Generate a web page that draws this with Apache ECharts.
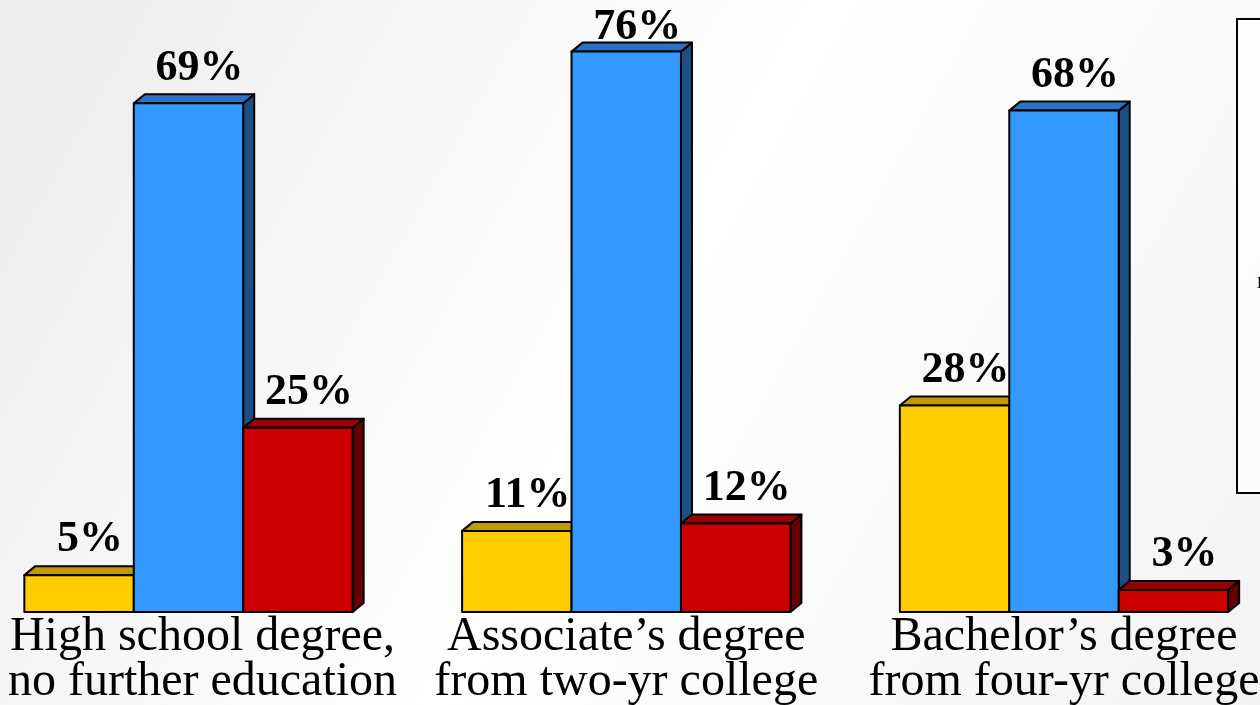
<!DOCTYPE html>
<html>
<head>
<meta charset="utf-8">
<script src="https://cdn.jsdelivr.net/npm/echarts@6/dist/echarts.min.js"></script>
<style>
html,body{margin:0;padding:0;}
#chart{width:1260px;height:705px;}
</style>
</head>
<body>
<div id="chart"></div>
<script>
const categories = ['High school degree,\nno further education', 'Associate’s degree\nfrom two-yr college', 'Bachelor’s degree\nfrom four-yr college'];
const seriesNames = ['Over-\neducated\nfor job', 'Education\nmatches\njob', 'Under-\neducated\nfor job'];
const overValues = [5, 11, 28];
const matchedValues = [69, 76, 68];
const underValues = [25, 12, 3];

const faceColors = [
  { front: '#FFCC00', top: '#C09A00', side: '#8A6E00' },
  { front: '#3399FF', top: '#2A72C4', side: '#1F4E85' },
  { front: '#CC0000', top: '#990000', side: '#660000' }
];
const DX = 11, DY = 9;

function makeRender(slot) {
  return function (params, api) {
    const idx = api.value(0);
    const val = api.value(1);
    const base = api.coord([idx, 0]);
    const top = api.coord([idx, val]);
    const band = api.size([1, 0])[0];
    const w = band * 0.25;
    const left = base[0] - w * 1.5 + slot * w;
    const right = left + w;
    const ty = top[1];
    const by = base[1];
    const c = faceColors[slot];
    const stroke = { stroke: '#000', lineWidth: 2, lineJoin: 'round' };
    const labelY = Math.max(ty - 13, 50);
    return {
      type: 'group',
      children: [
        { type: 'polygon', shape: { points: [[right, by], [right, ty], [right + DX, ty - DY], [right + DX, by - DY]] },
          style: Object.assign({ fill: c.side }, stroke) },
        { type: 'polygon', shape: { points: [[left, ty], [left + DX, ty - DY], [right + DX, ty - DY], [right, ty]] },
          style: Object.assign({ fill: c.top }, stroke) },
        { type: 'rect', shape: { x: left, y: ty, width: w, height: by - ty },
          style: Object.assign({ fill: c.front }, stroke) },
        { type: 'text', style: { text: val + '%', x: (left + right) / 2 + 11, y: labelY,
          align: 'center', verticalAlign: 'bottom', fill: '#000',
          fontFamily: '"Liberation Serif", "Times New Roman", serif', fontWeight: 'bold', fontSize: 44 } }
      ]
    };
  };
}

const allValues = [overValues, matchedValues, underValues];
const series = allValues.map(function (vals, s) {
  return {
    type: 'custom',
    name: seriesNames[s],
    renderItem: makeRender(s),
    itemStyle: { color: faceColors[s].front },
    encode: { x: 0, y: 1 },
    data: vals.map(function (v, i) { return [i, v]; }),
    z: 2 + s
  };
});

const chart = echarts.init(document.getElementById('chart'));
const catFont = { fontFamily: '"Liberation Serif", "Times New Roman", serif', fontSize: 48, lineHeight: 45, color: '#000' };
chart.setOption({
  backgroundColor: new echarts.graphic.LinearGradient(0, 0, 1, 1, [
    { offset: 0, color: '#ECECEC' },
    { offset: 0.5, color: '#FFFFFF' },
    { offset: 1, color: '#F3F3F3' }
  ]),
  animation: false,
  grid: { left: 188.5, right: 196, top: 0, bottom: 93, containLabel: false, outerBoundsMode: 'none' },
  xAxis: {
    type: 'category',
    boundaryGap: false,
    data: categories,
    axisLine: { show: false },
    axisTick: { show: false },
    axisLabel: {
      margin: 3,
      interval: 0,
      formatter: function (value, index) {
        const tag = index === 0 ? 'first' : 'other';
        return value.split('\n').map(function (l) { return '{' + tag + '|' + l + '}'; }).join('\n');
      },
      rich: {
        first: Object.assign({ padding: [0, 0, 0, 28] }, catFont),
        other: Object.assign({}, catFont)
      }
    }
  },
  yAxis: { type: 'value', min: 0, max: 83, show: false, splitLine: { show: false } },
  legend: {
    orient: 'vertical',
    left: 1252,
    top: 205,
    align: 'right',
    itemGap: 18,
    itemWidth: 14,
    itemHeight: 14,
    data: seriesNames,
    textStyle: { fontFamily: '"Liberation Serif", serif', fontSize: 16, lineHeight: 16, color: '#000' }
  },
  graphic: [
    { type: 'rect', left: 1236, top: 18, z: -1, shape: { width: 60, height: 474 },
      style: { fill: 'rgba(255,255,255,0.7)', stroke: '#000', lineWidth: 2 } }
  ],
  series: series
});
</script>
</body>
</html>
